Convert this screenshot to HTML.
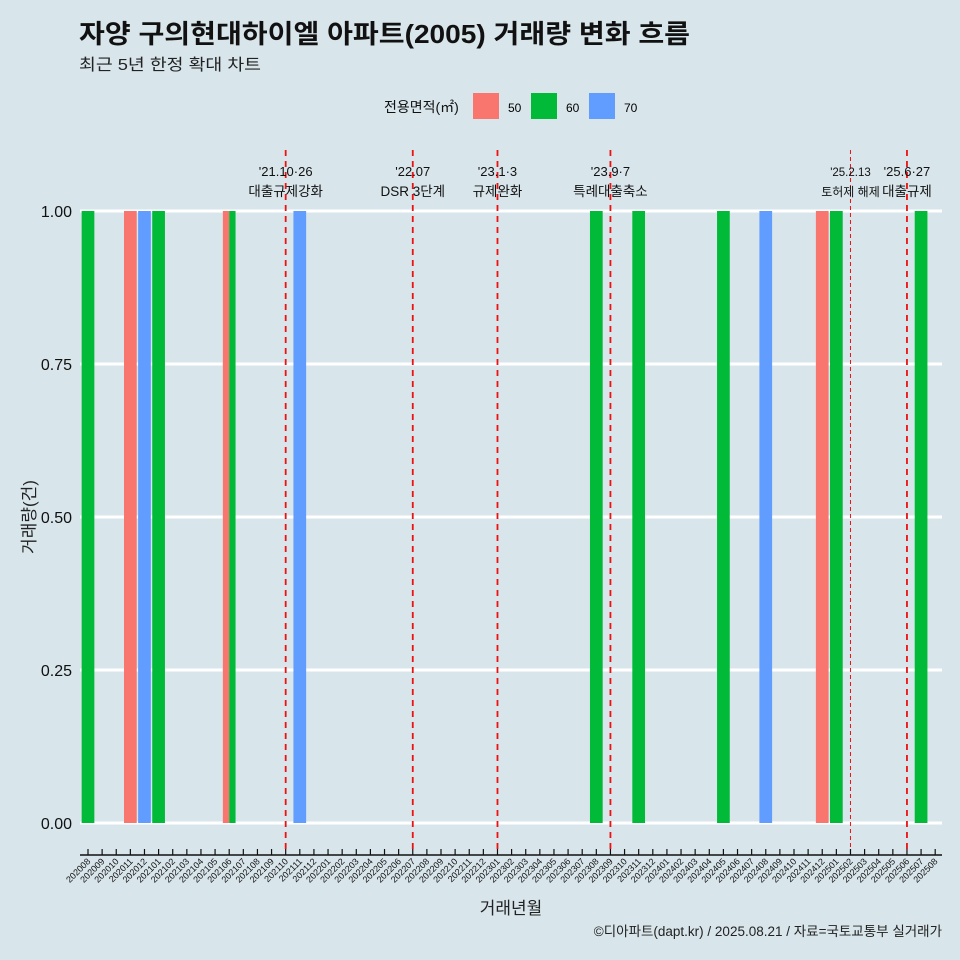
<!DOCTYPE html>
<html><head><meta charset="utf-8"><style>
body{margin:0;background:#d8e5eb;}
svg{display:block;font-family:"Liberation Sans","Noto Sans CJK KR",sans-serif;}
</style></head><body>
<svg id="c" width="960" height="960" viewBox="0 0 960 960">
<rect width="960" height="960" fill="#d8e5eb"/>
<text x="79" y="43" font-size="26" font-weight="bold" fill="#111" textLength="611" lengthAdjust="spacingAndGlyphs">자양 구의현대하이엘 아파트(2005) 거래량 변화 흐름</text>
<text x="79" y="70" font-size="16" fill="#222" textLength="182" lengthAdjust="spacingAndGlyphs">최근 5년 한정 확대 차트</text>
<g>
<text x="384" y="112" font-size="14" fill="#111">전용면적(㎡)</text>
<rect x="473" y="93" width="26" height="26" fill="#f8766d"/><text x="508" y="112" font-size="12">50</text>
<rect x="531" y="93" width="26" height="26" fill="#00ba38"/><text x="566" y="112" font-size="12">60</text>
<rect x="589" y="93" width="26" height="26" fill="#619cff"/><text x="624" y="112" font-size="12">70</text>
</g>
<g id="grid"></g><g id="bars"></g><g id="vlines"></g><g id="xaxis"></g>
<text transform="translate(35,517) rotate(-90)" text-anchor="middle" font-size="17" fill="#222">거래량(건)</text>
<text x="511" y="914" text-anchor="middle" font-size="17" fill="#222">거래년월</text>
<text x="942" y="936" text-anchor="end" font-size="13.5" fill="#222">©디아파트(dapt.kr) / 2025.08.21 / 자료=국토교통부 실거래가</text>
</svg>
<script>
const months=[];for(let y=2020;y<=2025;y++)for(let m=1;m<=12;m++){const k=y*100+m;if(k>=202008&&k<=202508)months.push(String(k));}
const barMonths=["202008","202011","202012","202101","202106","202106","202111","202308","202311","202405","202408","202412","202501","202507"];
const barArea=["60","50","70","60","50","60","70","60","60","60","70","50","60","60"];
const barCount=[1,1,1,1,1,1,1,1,1,1,1,1,1,1];
const yTicks=[0,0.25,0.5,0.75,1];
const yTickLabels=["0.00","0.25","0.50","0.75","1.00"];
const eventMonths=["202110","202207","202301","202309","202502","202506"];
const eventDates=["'21.10·26","'22.07","'23.1·3","'23.9·7","'25.2.13","'25.6·27"];
const eventNames=["대출규제강화","DSR 3단계","규제완화","특례대출축소","토허제 해제","대출규제"];
const colors={"50":"#f8766d","60":"#00ba38","70":"#619cff"};
const NS="http://www.w3.org/2000/svg";
const step=14.12, x0=88;
const xs=i=>x0+i*step;
const ys=v=>823-v*612;
function mk(t,a,p){const e=document.createElementNS(NS,t);for(const k in a)e.setAttribute(k,a[k]);p.appendChild(e);return e;}
const grid=document.getElementById('grid');
yTicks.forEach((v,i)=>{const l=mk('line',{x1:80,x2:942,y1:ys(v),y2:ys(v),stroke:'#fff','stroke-width':3},grid);

const t=mk('text',{x:72,y:ys(v)+6,'text-anchor':'end','font-size':16,fill:'#111'},grid);t.textContent=yTickLabels[i];
});
const bars=document.getElementById('bars');
const bw=step*0.9;
barMonths.forEach((m,i)=>{const same=barMonths.map((mm,j)=>mm===m?j:-1).filter(j=>j>=0);const n=same.length,k=same.indexOf(i);
const cx=xs(months.indexOf(m));const w=bw/n;const left=cx-bw/2+k*w;
const r=mk('rect',{x:left,y:ys(barCount[i]),width:w,height:ys(0)-ys(barCount[i]),fill:colors[barArea[i]]},bars);
});
const vl=document.getElementById('vlines');
eventMonths.forEach((m,i)=>{const x=xs(months.indexOf(m));const thin=m==="202502";
const l=mk('line',{x1:x,x2:x,y1:150,y2:852,stroke:'#ee1111','stroke-width':thin?1:1.8,'stroke-dasharray':thin?'4 3':'6 5'},vl);

const fs=thin?11.5:13;
const t1=mk('text',{x:x,y:176,'text-anchor':'middle','font-size':fs,fill:'#111'},vl);t1.textContent=eventDates[i];

const t2=mk('text',{x:x,y:196,'text-anchor':'middle','font-size':fs+0.5,fill:'#111'},vl);t2.textContent=eventNames[i];
});
const xa=document.getElementById('xaxis');
const ax=mk('line',{x1:80,x2:942,y1:855,y2:855,stroke:'#111','stroke-width':1.5},xa);

months.forEach((m,i)=>{const x=xs(i);mk('line',{x1:x,x2:x,y1:849,y2:855,stroke:'#111','stroke-width':1.2},xa);
const t=mk('text',{transform:`translate(${x+3},${862}) rotate(-45)`,'text-anchor':'end','font-size':9,fill:'#111'},xa);t.textContent=m;
});
</script>
</body></html>
